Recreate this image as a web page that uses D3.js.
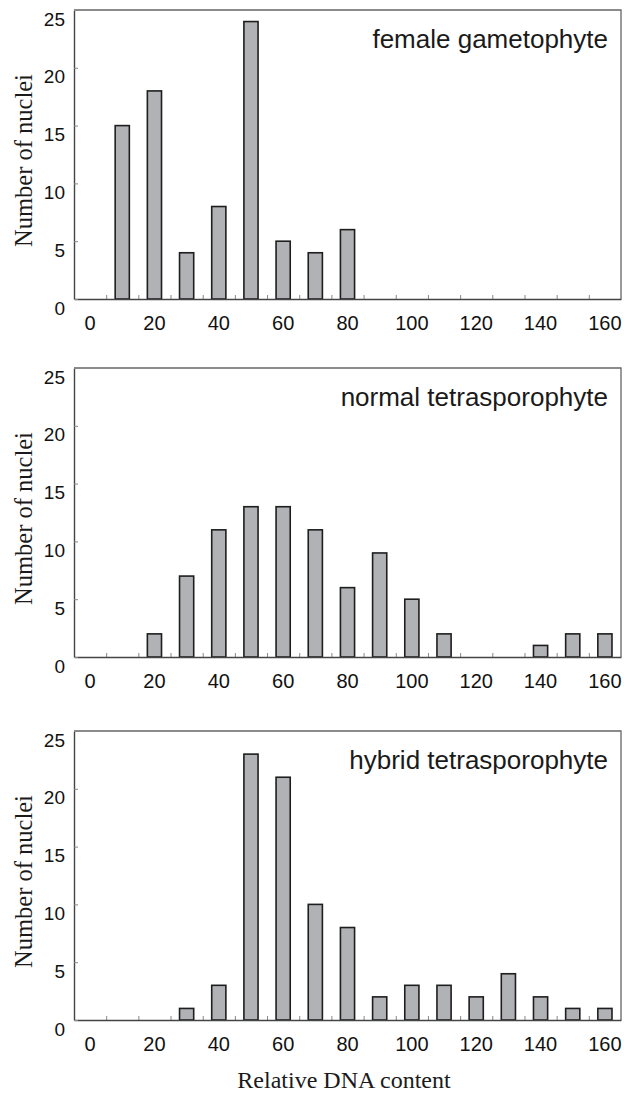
<!DOCTYPE html>
<html>
<head>
<meta charset="utf-8">
<script src="https://cdn.jsdelivr.net/npm/d3@7"></script>
<style>
  body { margin: 0; background: #fff; }
  .tick text { font-family: "Liberation Sans", Arial, sans-serif; fill: #111; }
  .axis path { stroke: #444; }
  .ticks line { stroke: #888; }
</style>
</head>
<body>
<svg id="chart" width="624" height="1096"></svg>
<script>
// relative DNA content classes (bins of 10)
var categories = [0, 10, 20, 30, 40, 50, 60, 70, 80, 90, 100, 110, 120, 130, 140, 150, 160];
var xTickLabels = [0, 20, 40, 60, 80, 100, 120, 140, 160];
var yTicks = [0, 5, 10, 15, 20, 25];

var panelTitles = ["female gametophyte", "normal tetrasporophyte", "hybrid tetrasporophyte"];

// number of nuclei per class
var female = [0, 15, 18, 4, 8, 24, 5, 4, 6, 0, 0, 0, 0, 0, 0, 0, 0];
var normal = [0, 0, 2, 7, 11, 13, 13, 11, 6, 9, 5, 2, 0, 0, 1, 2, 2];
var hybrid = [0, 0, 0, 1, 3, 23, 21, 10, 8, 2, 3, 3, 2, 4, 2, 1, 1];

var series = [female, normal, hybrid];

var svg = d3.select("#chart");
var left = 74, right = 621, panelHeight = 289;
var tops = [10, 368, 731];

var x = d3.scaleBand()
  .domain(categories)
  .range([left, right])
  .paddingInner(0.56)
  .paddingOuter(0.28);

// linear twin of the band scale, used for the small ticks between the bars
var xl = d3.scaleLinear().domain([-5, 165]).range([left, right]);

series.forEach(function(values, p) {
  var top = tops[p];
  var y = d3.scaleLinear().domain([0, 25]).range([top + panelHeight, top]);
  var g = svg.append("g");

  // frame (top and right)
  g.append("path")
    .attr("d", "M" + left + "," + top + "H" + right + "V" + (top + panelHeight))
    .attr("fill", "none")
    .attr("stroke", "#666")
    .attr("stroke-width", 1.3);

  // bars
  g.selectAll("rect")
    .data(values.map(function(v, i) { return {c: categories[i], v: v}; })
      .filter(function(d) { return d.v > 0; }))
    .enter().append("rect")
    .attr("x", function(d) { return x(d.c); })
    .attr("width", x.bandwidth())
    .attr("y", function(d) { return y(d.v); })
    .attr("height", function(d) { return y(0) - y(d.v); })
    .attr("fill", "#b1b2b6")
    .attr("stroke", "#1e1e1e")
    .attr("stroke-width", 1.6);

  // small ticks between classes
  g.append("g")
    .attr("class", "ticks")
    .attr("transform", "translate(0," + y(0) + ")")
    .call(d3.axisBottom(xl)
      .tickValues(d3.range(5, 165, 10))
      .tickSize(-4)
      .tickFormat(""))
    .call(function(a) { a.select(".domain").remove(); });

  // x axis line and labels
  g.append("g")
    .attr("class", "axis")
    .attr("transform", "translate(0," + y(0) + ")")
    .call(d3.axisBottom(x)
      .tickValues(xTickLabels)
      .tickSize(0)
      .tickPadding(17)
      .tickSizeOuter(0))
    .call(function(a) {
      a.select(".domain").attr("stroke-width", 1.4);
      a.selectAll("text").attr("font-size", 20).attr("font-family", null);
    });

  // y axis
  g.append("g")
    .attr("class", "axis ticks")
    .attr("transform", "translate(" + left + ",0)")
    .call(d3.axisLeft(y)
      .tickValues(yTicks)
      .tickSize(-4)
      .tickPadding(9)
      .tickSizeOuter(0))
    .call(function(a) {
      a.select(".domain").attr("stroke-width", 1.4);
      a.selectAll("text").attr("font-size", 19).attr("font-family", null).attr("y", 9);
    });

  g.append("text")
    .attr("x", 608)
    .attr("y", top + 38)
    .attr("text-anchor", "end")
    .attr("font-family", "Liberation Sans, Arial, sans-serif")
    .attr("font-size", 26)
    .attr("fill", "#1a1a1a")
    .text(panelTitles[p]);

  g.append("text")
    .attr("transform", "translate(32," + (top + panelHeight / 2 + 6) + ") rotate(-90)")
    .attr("text-anchor", "middle")
    .attr("font-family", "Liberation Serif, Times New Roman, serif")
    .attr("font-size", 24.5)
    .attr("fill", "#1a1a1a")
    .text("Number of nuclei");
});

svg.append("text")
  .attr("x", 344)
  .attr("y", 1088)
  .attr("text-anchor", "middle")
  .attr("font-family", "Liberation Serif, Times New Roman, serif")
  .attr("font-size", 24)
  .attr("fill", "#1a1a1a")
  .text("Relative DNA content");
</script>
</body>
</html>
